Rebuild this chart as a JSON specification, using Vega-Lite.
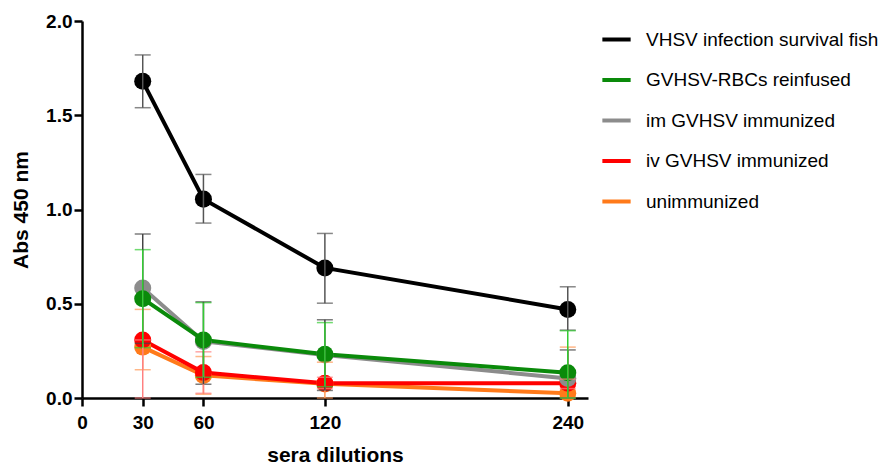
{
  "$schema": "https://vega.github.io/schema/vega-lite/v6.json",
  "width": 506,
  "height": 377,
  "autosize": {"type": "none"},
  "padding": {"left": 82, "top": 21, "right": 294, "bottom": 68},
  "config": {
    "view": {"stroke": null},
    "font": "Liberation Sans"
  },
  "data": {
    "values": [
      {"group": "unimmunized", "dilution": 30, "abs": 0.27, "lo": 0.15, "hi": 0.47},
      {"group": "unimmunized", "dilution": 60, "abs": 0.12, "lo": 0.02, "hi": 0.22},
      {"group": "unimmunized", "dilution": 120, "abs": 0.075, "lo": 0.0, "hi": 0.19},
      {"group": "unimmunized", "dilution": 240, "abs": 0.025, "lo": 0.0, "hi": 0.27},
      {"group": "iv GVHSV immunized", "dilution": 30, "abs": 0.308, "lo": 0.0, "hi": 0.308},
      {"group": "iv GVHSV immunized", "dilution": 60, "abs": 0.135, "lo": 0.025, "hi": 0.245},
      {"group": "iv GVHSV immunized", "dilution": 120, "abs": 0.078, "lo": 0.05, "hi": 0.11},
      {"group": "iv GVHSV immunized", "dilution": 240, "abs": 0.078, "lo": 0.05, "hi": 0.1},
      {"group": "im GVHSV immunized", "dilution": 30, "abs": 0.583, "lo": 0.29, "hi": 0.87},
      {"group": "im GVHSV immunized", "dilution": 60, "abs": 0.3, "lo": 0.073, "hi": 0.51},
      {"group": "im GVHSV immunized", "dilution": 120, "abs": 0.228, "lo": 0.04, "hi": 0.415},
      {"group": "im GVHSV immunized", "dilution": 240, "abs": 0.104, "lo": 0.0, "hi": 0.255},
      {"group": "GVHSV-RBCs reinfused", "dilution": 30, "abs": 0.527, "lo": 0.267, "hi": 0.787},
      {"group": "GVHSV-RBCs reinfused", "dilution": 60, "abs": 0.308, "lo": 0.11, "hi": 0.506},
      {"group": "GVHSV-RBCs reinfused", "dilution": 120, "abs": 0.232, "lo": 0.06, "hi": 0.4},
      {"group": "GVHSV-RBCs reinfused", "dilution": 240, "abs": 0.134, "lo": 0.0, "hi": 0.357},
      {"group": "VHSV infection survival fish", "dilution": 30, "abs": 1.68, "lo": 1.54, "hi": 1.82},
      {"group": "VHSV infection survival fish", "dilution": 60, "abs": 1.055, "lo": 0.928, "hi": 1.186},
      {"group": "VHSV infection survival fish", "dilution": 120, "abs": 0.69, "lo": 0.503, "hi": 0.873},
      {"group": "VHSV infection survival fish", "dilution": 240, "abs": 0.47, "lo": 0.36, "hi": 0.59}
    ]
  },
  "encoding": {
    "x": {
      "field": "dilution", "type": "quantitative",
      "scale": {"domain": [0, 250], "nice": false, "zero": false},
      "axis": {
        "values": [0, 30, 60, 120, 240],
        "title": "sera dilutions",
        "grid": false,
        "domainColor": "black", "domainWidth": 2.5,
        "tickColor": "black", "tickWidth": 2.5, "tickSize": 8,
        "labelFontSize": 19, "labelFontWeight": "bold", "labelColor": "black", "labelPadding": 7,
        "labelFlush": false,
        "titleFontSize": 21, "titleFontWeight": "bold", "titleColor": "black", "titlePadding": 12
      }
    },
    "y": {
      "field": "abs", "type": "quantitative",
      "scale": {"domain": [0, 2], "nice": false},
      "axis": {
        "values": [0, 0.5, 1, 1.5, 2],
        "format": ".1f",
        "title": "Abs 450 nm",
        "grid": false,
        "domainColor": "black", "domainWidth": 2.5,
        "tickColor": "black", "tickWidth": 2.5, "tickSize": 8,
        "labelFontSize": 19, "labelFontWeight": "bold", "labelColor": "black", "labelPadding": 2,
        "labelFlush": false,
        "titleFontSize": 21, "titleFontWeight": "bold", "titleColor": "black", "titlePadding": 14
      }
    }
  },
  "layer": [
    {
      "mark": {"type": "line", "strokeWidth": 4},
      "encoding": {
        "color": {
          "field": "group", "type": "nominal",
          "scale": {
            "domain": ["VHSV infection survival fish", "GVHSV-RBCs reinfused", "im GVHSV immunized", "iv GVHSV immunized", "unimmunized"],
            "range": ["#000000", "#0a8a0a", "#8c8c8c", "#ff0000", "#ff7a1a"]
          },
          "legend": {
            "title": null,
            "orient": "none",
            "legendX": 518,
            "legendY": 2,
            "symbolType": "stroke",
            "symbolStrokeWidth": 4,
            "symbolSize": 800,
            "labelFontSize": 19,
            "labelColor": "black",
            "labelOffset": 13,
            "rowPadding": 13.5,
            "labelLimit": 300
          }
        }
      }
    },
    {
      "mark": {"type": "point", "filled": true, "shape": "circle", "size": 290, "opacity": 1},
      "encoding": {
        "color": {
          "field": "group", "type": "nominal",
          "scale": {
            "domain": ["VHSV infection survival fish", "GVHSV-RBCs reinfused", "im GVHSV immunized", "iv GVHSV immunized", "unimmunized"],
            "range": ["#000000", "#0a8a0a", "#8c8c8c", "#ff0000", "#ff7a1a"]
          },
          "legend": null
        }
      }
    },
    {
      "mark": {"type": "errorbar", "thickness": 1.5, "ticks": {"size": 16, "thickness": 1.5}},
      "encoding": {
        "y": {"field": "lo", "type": "quantitative"},
        "y2": {"field": "hi"},
        "color": {
          "field": "group", "type": "nominal",
          "scale": {
            "domain": ["VHSV infection survival fish", "GVHSV-RBCs reinfused", "im GVHSV immunized", "iv GVHSV immunized", "unimmunized"],
            "range": ["#555555", "#33cc33", "#444444", "#ff8080", "#ff9955"]
          },
          "legend": null
        }
      }
    }
  ],
  "resolve": {"scale": {"color": "independent"}}
}
